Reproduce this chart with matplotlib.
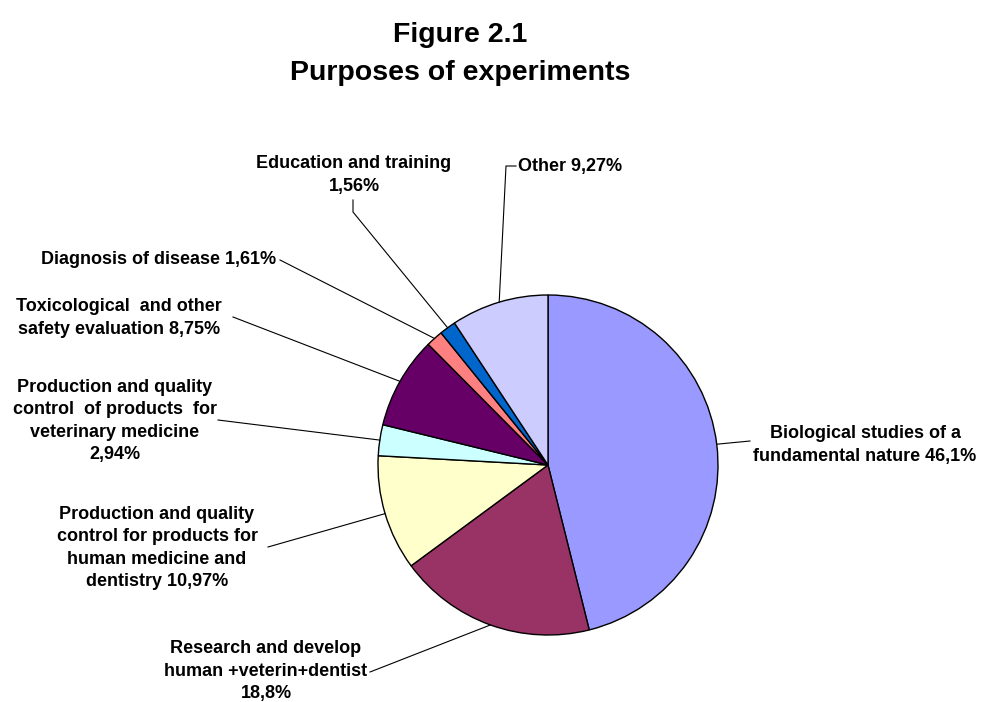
import matplotlib.pyplot as plt
import numpy as np

plt.rcParams['font.family'] = ['Liberation Sans', 'DejaVu Sans']

labels = ['Biological studies of a\nfundamental nature 46,1%',
          'Research and develop\nhuman +veterin+dentist\n18,8%',
          'Production and quality\ncontrol for products for\nhuman medicine and\ndentistry 10,97%',
          'Production and quality\ncontrol  of products  for\nveterinary medicine\n2,94%',
          'Toxicological  and other\nsafety evaluation 8,75%',
          'Diagnosis of disease 1,61%',
          'Education and training\n1,56%',
          'Other 9,27%']
values = [46.1, 18.8, 10.97, 2.94, 8.75, 1.61, 1.56, 9.27]
colors = ['#9999FF', '#993366', '#FFFFCC', '#CCFFFF', '#660066', '#FF8080', '#0066CC', '#CCCCFF']

W, H = 981, 702
R = 170.0
CX, CY = 548, 465


def px(x, y):
    # pixel (from top-left) -> data units, pie radius = 1
    return (x - CX) / R, (CY - y) / R


fig = plt.figure(figsize=(W / 100, H / 100), dpi=100)
ax = fig.add_axes([0, 0, 1, 1])

wedges, _ = ax.pie(values, colors=colors, startangle=90, counterclock=False,
                   radius=1, wedgeprops=dict(edgecolor='black', linewidth=1))

ax.set_aspect('auto')
ax.set_xlim(px(0, 0)[0], px(W, 0)[0])
ax.set_ylim(px(0, H)[1], px(0, 0)[1])
ax.axis('off')

# label layout: (text pos px, ha, leader path points px after the wedge edge)
layout = [
    ((865, 445), 'center', [(750, 441)]),
    ((266, 671), 'center', [(370, 672)]),
    ((157, 548), 'center', [(268, 547)]),
    ((115, 421), 'center', [(218, 420)]),
    ((119, 318), 'center', [(233, 317)]),
    ((276, 260), 'right', [(280, 260)]),
    ((354, 175), 'center', [(353, 212), (353, 200)]),
    ((518, 166), 'left', [(506, 166), (516, 166)]),
]

for w, lab, (tpos, ha, path) in zip(wedges, labels, layout):
    mid = np.deg2rad((w.theta1 + w.theta2) / 2)
    pts = [(np.cos(mid), np.sin(mid))] + [px(*p) for p in path]
    xs, ys = zip(*pts)
    ax.plot(xs, ys, color='black', linewidth=0.8)
    ax.text(*px(*tpos), lab, ha=ha, va='center', fontsize=13,
            fontweight='bold', linespacing=1.4)

fig.text(460 / W, 1 - 42 / H, 'Figure 2.1', ha='center', va='baseline',
         fontsize=20.5, fontweight='bold')
fig.text(460 / W, 1 - 80 / H, 'Purposes of experiments', ha='center',
         va='baseline', fontsize=20.5, fontweight='bold')

fig.savefig('out.png', dpi=100)
